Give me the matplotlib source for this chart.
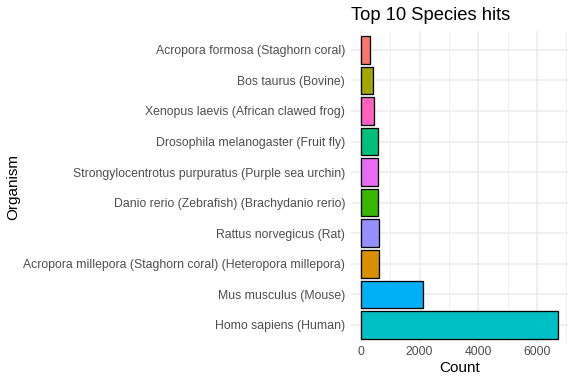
import matplotlib
matplotlib.use("Agg")
import matplotlib.pyplot as plt
from matplotlib.ticker import MultipleLocator

organisms = [
    "Homo sapiens (Human)",
    "Mus musculus (Mouse)",
    "Acropora millepora (Staghorn coral) (Heteropora millepora)",
    "Rattus norvegicus (Rat)",
    "Danio rerio (Zebrafish) (Brachydanio rerio)",
    "Strongylocentrotus purpuratus (Purple sea urchin)",
    "Drosophila melanogaster (Fruit fly)",
    "Xenopus laevis (African clawed frog)",
    "Bos taurus (Bovine)",
    "Acropora formosa (Staghorn coral)",
]
counts = [6730, 2130, 612, 600, 593, 582, 580, 458, 425, 308]
colors = ["#00BFC4", "#00B0F6", "#D89000", "#9590FF", "#39B600",
          "#E76BF3", "#00BF7D", "#FF62BC", "#A3A500", "#F8766D"]

plt.rcParams['font.family'] = ['Liberation Sans', 'DejaVu Sans']
k = 100 / 72

fig = plt.figure(figsize=(8, 384/72), dpi=72)
ax = fig.add_axes([0.6095, 0.106, 0.377, 0.812])

ypos = list(range(len(organisms)))
ax.barh(ypos, counts, height=0.9, color=colors, edgecolor="black", linewidth=1.3, zorder=3)

ax.set_yticks(ypos)
ax.set_yticklabels(organisms)
ax.set_ylim(-0.6, len(organisms) - 1 + 0.6)
xmax = max(counts)
ax.set_xlim(-0.05 * xmax, 1.05 * xmax)
ax.xaxis.set_major_locator(MultipleLocator(2000))
ax.xaxis.set_minor_locator(MultipleLocator(1000))

ax.grid(True, which="major", color="#EBEBEB", linewidth=1.5, zorder=0)
ax.grid(True, which="minor", axis="x", color="#EBEBEB", linewidth=0.8, zorder=0)
ax.set_axisbelow(True)
for s in ax.spines.values():
    s.set_visible(False)
ax.tick_params(axis="both", which="both", length=0, labelsize=8.8 * k, labelcolor="#4D4D4D")
ax.tick_params(axis="y", pad=6)
ax.tick_params(axis="x", pad=3)

ax.set_xlabel("Count", fontsize=11 * k, color="black", labelpad=3)
fig.text(13/576, 1 - 187/384, "Organism", rotation=90, fontsize=11 * k, ha="center", va="center")
fig.text(351/576, 1 - 15/384, "Top 10 Species hits", fontsize=13.2 * k, ha="left", va="center")

fig.savefig("out.png", dpi=72)
